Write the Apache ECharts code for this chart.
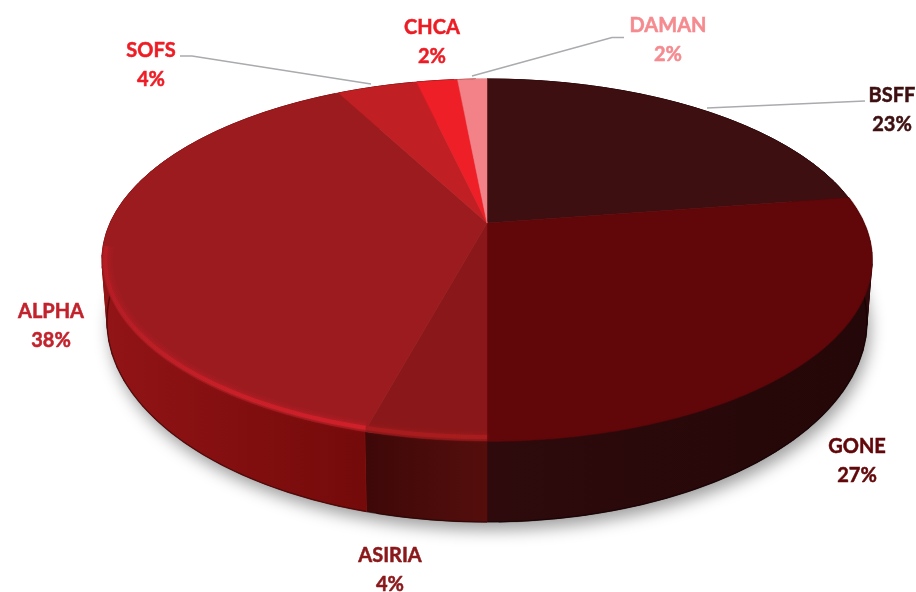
<!DOCTYPE html>
<html>
<head>
<meta charset="utf-8">
<title>Pie</title>
<script src="https://cdn.jsdelivr.net/npm/echarts@6/dist/echarts.min.js"></script>
<style>
html, body { margin: 0; padding: 0; background: #fff; }
#chart { width: 916px; height: 592px; }
</style>
</head>
<body>
<div id="chart"></div>
<script>
// data, clockwise from 12 o'clock (labels show the rounded value)
var categories = ['BSFF', 'GONE', 'ASIRIA', 'ALPHA', 'SOFS', 'CHCA', 'DAMAN'];
var values = [22.6, 27.4, 4.2, 38.1, 4.1, 2.1, 1.5];

// styles
var topColors = ['#3e0f10', '#610709', '#8a1719', '#9c1b1f', '#c02024', '#ee1f27', '#f28287'];
var wallLeft = ['#2a0a0b', '#2e0a0c', '#3e0808', '#921416', '#7a0c0c', '#7a0c0c', '#7a0c0c'];
var wallRight = ['#1e0506', '#240708', '#540e0c', '#740a0a', '#7a0c0c', '#7a0c0c', '#7a0c0c'];
var rimColors = ['', '', '#a81c1e', '#d0202a', '', '', ''];
var labelColors = ['#3e0f10', '#610709', '#8a1719', '#c1222c', '#ee1c25', '#ed1c24', '#f58a8f'];

// layout
var labelX = [892, 857, 390, 51, 151, 432, 668];
var labelY = [96, 447, 556, 312, 51, 28, 26];
var leaders = [
    [[707, 108], [865, 101]],
    null, null, null,
    [[180, 56], [192, 56], [371, 84]],
    null,
    [[472, 76], [612, 37.5], [624, 37.5]]
];
var topEllipse = {cx: 487, cy: 260, rx: 385, ry: 181};
var bottomEllipse = {cx: 487, cy: 321, rx: 380, ry: 201};
var apexShift = -0.204; // perspective: centre of the pie sits above centre of the ellipse

var total = values.reduce(function (a, b) { return a + b; }, 0);
var starts = [];
values.reduce(function (sum, v, i) {
    starts[i] = sum / total;
    return sum + v;
}, 0);

var project = function (frac, e) {
    var t = frac * Math.PI * 2;
    var x = Math.sin(t);
    var y = -Math.cos(t);
    var d = 1 + apexShift * y;
    return [
        e.cx + e.rx * x * Math.sqrt(1 - apexShift * apexShift) / d,
        e.cy + e.ry * (y + apexShift) / d
    ];
};
var arcPoints = function (from, to, e) {
    var pts = [];
    var n = Math.max(2, Math.ceil((to - from) * 500));
    for (var i = 0; i <= n; i++) {
        pts.push(project(from + (to - from) * i / n, e));
    }
    return pts;
};
var sliceRange = function (i) {
    return [starts[i], starts[i] + values[i] / total];
};

var renderWall = function (params) {
    var i = params.dataIndex;
    var r = sliceRange(i);
    var children = [];
    if (i === 0) {
        // soft shadow under the disc
        children.push({
            type: 'polygon',
            shape: {points: arcPoints(0, 1, bottomEllipse)},
            style: {
                fill: '#888',
                shadowBlur: 16,
                shadowColor: 'rgba(0,0,0,0.38)',
                shadowOffsetY: 8,
                shadowOffsetX: 3
            }
        });
    }
    var top = arcPoints(r[0], r[1], topEllipse);
    var bottom = arcPoints(r[0], r[1], bottomEllipse);
    // coarse quads fill the gap at the left and right ends of the wall
    for (var k = 0; k < top.length - 6; k += 5) {
        children.push({
            type: 'polygon',
            shape: {points: [top[k], top[k + 5], bottom[k + 5], bottom[k]]},
            style: {fill: wallLeft[i], stroke: wallLeft[i], lineWidth: 1}
        });
    }
    children.push({
        type: 'polygon',
        shape: {points: top.concat(bottom.slice().reverse())},
        style: {
            fill: new echarts.graphic.LinearGradient(0, 0, 1, 0, [
                {offset: 0, color: wallLeft[i]},
                {offset: 1, color: wallRight[i]}
            ]),
            stroke: wallRight[i],
            lineWidth: 0.5
        }
    });
    children.push({
        type: 'polyline',
        shape: {points: bottom},
        style: {fill: 'none', stroke: 'rgba(0,0,0,0.35)', lineWidth: 1.5}
    });
    return {type: 'group', children: children};
};

var renderTop = function (params) {
    var i = params.dataIndex;
    var r = sliceRange(i);
    var centre = [topEllipse.cx, topEllipse.cy + topEllipse.ry * apexShift];
    var arc = arcPoints(r[0], r[1], topEllipse);
    var children = [{
        type: 'polygon',
        shape: {points: [centre].concat(arc)},
        style: {fill: topColors[i], stroke: topColors[i], lineWidth: 0.5}
    }];
    // bevel highlight along the front edge
    if (rimColors[i]) {
        var rimPoints = function (inX, inY) {
            var inset = {
                cx: topEllipse.cx,
                cy: topEllipse.cy,
                rx: topEllipse.rx - inX,
                ry: topEllipse.ry - inY
            };
            return arcPoints(r[0], r[1], inset).filter(function (p) {
                return p[1] > 245;
            });
        };
        var rimFill = function (a, b, c) {
            return new echarts.graphic.LinearGradient(102, 0, 363, 0, [
                {offset: 0, color: rimColors[i] + a},
                {offset: 0.5, color: rimColors[i] + b},
                {offset: 1, color: rimColors[i] + c}
            ], true);
        };
        [[6, 10], [5, 7], [4, 5]].forEach(function (layer) {
            children.push({
                type: 'polyline',
                shape: {points: rimPoints(layer[0], layer[0])},
                style: {fill: 'none', stroke: rimFill('14', '12', '12'), lineWidth: layer[1]}
            });
        });
        children.push({
            type: 'polyline',
            shape: {points: rimPoints(3, 4)},
            style: {fill: 'none', stroke: rimFill('40', 'c0', 'ff'), lineWidth: 4, shadowBlur: 4, shadowColor: rimColors[i] + '80'}
        });
    } else if (i === 1) {
        // dark slice only gets a blurred edge
        children.push({
            type: 'polyline',
            shape: {points: arc},
            style: {fill: 'none', stroke: topColors[i] + '80', lineWidth: 2}
        });
    }
    return {type: 'group', children: children};
};

var renderLabel = function (params) {
    var i = params.dataIndex;
    var children = [];
    if (leaders[i]) {
        children.push({
            type: 'polyline',
            shape: {points: leaders[i]},
            style: {fill: 'none', stroke: '#a9abae', lineWidth: 1.5}
        });
    }
    var texts = [categories[i], Math.round(values[i]) + '%'];
    texts.forEach(function (t, n) {
        children.push({
            type: 'text',
            style: {
                text: t,
                x: labelX[i],
                y: labelY[i] + n * 29,
                fill: labelColors[i],
                stroke: labelColors[i],
                lineWidth: 0.5,
                font: 'bold 20px Lato, "Open Sans", sans-serif',
                align: 'center',
                verticalAlign: 'middle'
            }
        });
    });
    return {type: 'group', children: children};
};

var seriesData = categories.map(function (name, i) {
    return {name: name, value: values[i]};
});

var myChart = echarts.init(document.getElementById('chart'));
myChart.setOption({
    animation: false,
    backgroundColor: '#fff',
    series: [
        {type: 'custom', coordinateSystem: 'none', silent: true, z: 1, renderItem: renderWall, data: seriesData},
        {type: 'custom', coordinateSystem: 'none', silent: true, z: 2, renderItem: renderTop, data: seriesData},
        {type: 'custom', coordinateSystem: 'none', silent: true, z: 3, renderItem: renderLabel, data: seriesData}
    ]
});
</script>
</body>
</html>
